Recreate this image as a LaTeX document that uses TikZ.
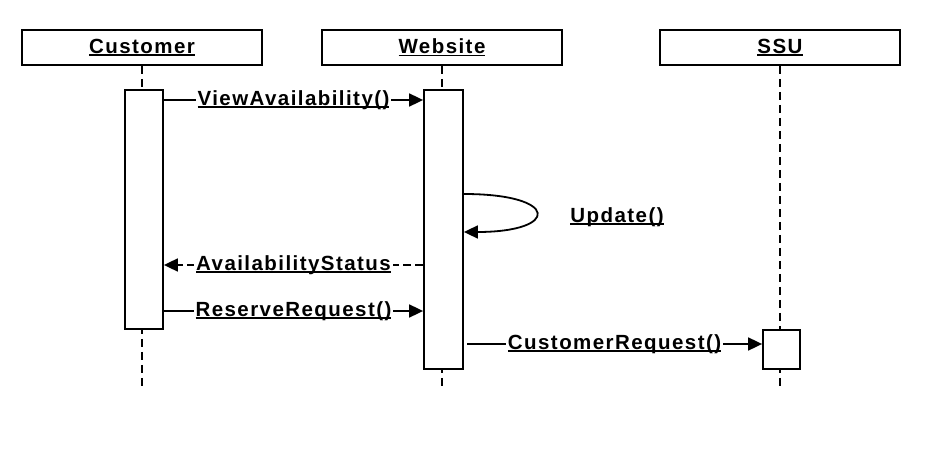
\documentclass[tikz,border=0pt]{standalone}
\usepackage{fontspec}
\setmainfont{Liberation Sans}
\usetikzlibrary{arrows.meta}
\newcommand\ulx[1]{\setbox0\hbox{#1}\rlap{\rule[-2.6pt]{\wd0}{1.7pt}}\box0}
\begin{document}
\begin{tikzpicture}[x=1pt,y=-1pt,
  txt/.style={font=\fontsize{20.5}{24}\selectfont\bfseries\addfontfeature{LetterSpace=7}},
  lbl/.style={txt, fill=white, inner sep=2pt},
  head/.style={txt, draw, line width=1.8pt, minimum width=240pt, minimum height=35pt},
  act/.style={draw, line width=1.8pt, fill=white},
  life/.style={line width=1.8pt, dash pattern=on 8pt off 5pt},
  tip/.style={-{Triangle[length=14pt,width=13pt]}},
  msg/.style={line width=1.8pt, tip},
  ret/.style={line width=1.8pt, dash pattern=on 8pt off 4pt, tip}]
\useasboundingbox (0,0) rectangle (937,449);
% headers
\node[head] (hc) at (142,47.5) {\ulx{Customer}};
\node[head] (hw) at (442,47.5) {\ulx{Website}};
\node[head] (hs) at (780,47.5) {\ulx{SSU}};
% lifeline ends
\coordinate (ec) at (142,390);
\coordinate (ew) at (442,390);
\coordinate (es) at (780,390);
\draw[life] (hc.south) -- (ec);
\draw[life] (hw.south) -- (ew);
\draw[life] (hs.south) -- (es);
% activations
\node[act, minimum width=38pt, minimum height=239pt] (ac) at (144,209.5) {};
\node[act, minimum width=39pt, minimum height=279pt] (aw) at (443.5,229.5) {};
\node[act, minimum width=37pt, minimum height=39pt] (as) at (781.5,349.5) {};
% messages
\draw[msg] (ac.east |- 0,100) -- node[lbl] (l1) {\ulx{ViewAvailability()}} (aw.west |- 0,100);
\draw[msg] (aw.east |- 0,194) .. controls (560,194) and (560,232) .. (aw.east |- 0,232);
\node[lbl] (l2) at (617,217) {\ulx{Update()}};
\draw[ret] (aw.west |- 0,265) -- node[lbl] (l3) {\ulx{AvailabilityStatus}} (ac.east |- 0,265);
\draw[msg] (ac.east |- 0,311) -- node[lbl] (l4) {\ulx{ReserveRequest()}} (aw.west |- 0,311);
\coordinate (cw) at (467,344);
\draw[msg] (cw) -- node[lbl] (l5) {\ulx{CustomerRequest()}} (as.west |- 0,344);
\end{tikzpicture}
\end{document}
